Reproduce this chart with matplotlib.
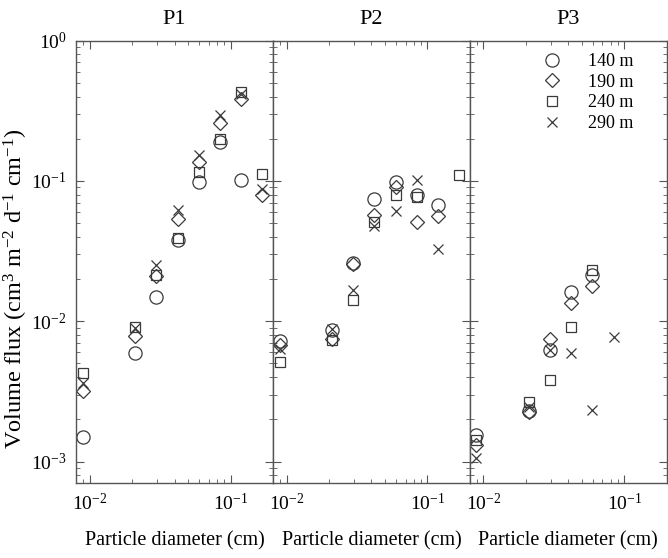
"""
Volume flux vs particle diameter at three sites (P1, P2, P3).
"""

import matplotlib
matplotlib.use('Agg')
import matplotlib.pyplot as plt
import numpy as np

plt.rcParams['font.family'] = ['Liberation Serif', 'DejaVu Serif']
plt.rcParams['mathtext.fontset'] = 'custom'
plt.rcParams['mathtext.rm'] = 'Liberation Serif'
plt.rcParams['mathtext.it'] = 'Liberation Serif:italic'

# particle diameter bins (cm)
diam = [0.0089, 0.021, 0.0297, 0.042, 0.0594, 0.084, 0.119, 0.168]

depths = ['140 m', '190 m', '240 m', '290 m']

# volume flux per depth, one list per panel (None = no data)
p1 = {
    '140 m': [1.5e-3, 5.9e-3, 1.49e-2, 3.8e-2, 0.098, 0.19, 0.102, None],
    '190 m': [3.2e-3, 7.9e-3, 2.1e-2, 5.4e-2, 0.136, 0.26, 0.385, 0.079],
    '240 m': [4.3e-3, 9.1e-3, 2.13e-2, 3.95e-2, 0.116, 0.20, 0.43, 0.112],
    '290 m': [3.6e-3, 9.0e-3, 2.5e-2, 6.2e-2, 0.154, 0.295, 0.42, 0.0875],
}
p2 = {
    '140 m': [7.2e-3, 8.7e-3, 2.6e-2, 7.4e-2, 0.098, 0.079, 0.067, None],
    '190 m': [6.8e-3, 7.5e-3, 2.55e-2, 5.7e-2, 0.090, 0.0506, 0.0567, None],
    '240 m': [5.1e-3, 7.4e-3, 1.41e-2, 5.1e-2, 0.079, 0.077, None, 0.111],
    '290 m': [6.35e-3, 8.8e-3, 1.67e-2, 4.75e-2, 0.061, 0.101, 0.0329, None],
}
p3 = {
    '140 m': [1.55e-3, 2.29e-3, 6.24e-3, 1.62e-2, 2.14e-2, None, None, None],
    '190 m': [1.32e-3, 2.27e-3, 7.5e-3, 1.36e-2, 1.77e-2, None, None, None],
    '240 m': [1.43e-3, 2.66e-3, 3.8e-3, 9.1e-3, 2.33e-2, None, None, None],
    '290 m': [1.06e-3, 2.44e-3, 6.2e-3, 5.97e-3, 2.34e-3, 7.75e-3, None, None],
}
panels = [('P1', p1), ('P2', p2), ('P3', p3)]

markers = {'140 m': ('o', 9.5), '190 m': ('D', 7.5), '240 m': ('s', 7.5), '290 m': ('x', 7.5)}
ink = '#3a3a3a'

fig = plt.figure(figsize=(6.68, 5.58), dpi=100)
left, right, bottom, top = 0.114, 0.998, 0.134, 0.927
w = (right - left) / 3

axes = []
for i, (name, data) in enumerate(panels):
    ax = fig.add_axes([left + i * w, bottom, w, top - bottom])
    axes.append(ax)
    for d in depths:
        m, ms = markers[d]
        x = [xv for xv, yv in zip(diam, data[d]) if yv is not None]
        y = [yv for yv in data[d] if yv is not None]
        ax.plot(x, y, linestyle='none', marker=m, markersize=ms,
                markerfacecolor='none', markeredgecolor=ink,
                markeredgewidth=0.9, label=d)
    ax.set_xscale('log')
    ax.set_yscale('log')
    ax.set_xlim(0.008, 0.2)
    ax.set_ylim(7e-4, 1)
    ax.set_title(name, fontsize=16, pad=12)
    ax.set_xlabel('Particle diameter (cm)', fontsize=14.5, labelpad=12)
    ax.tick_params(which='both', direction='in', top=True, right=True,
                   color='#555555', labelsize=14)
    ax.tick_params(which='major', length=6, pad=7)
    ax.tick_params(which='minor', length=3)
    for s in ax.spines.values():
        s.set_color('#555555')
        s.set_linewidth(1.0)
    if i > 0:
        ax.tick_params(axis='y', which='both', labelleft=False)

axes[0].set_ylabel('Volume flux (cm$^{3}$ m$^{-2}$ d$^{-1}$ cm$^{-1}$)', fontsize=17.5)
axes[0].yaxis.set_label_coords(-0.235, 0.44)
axes[2].legend(loc='upper right', bbox_to_anchor=(0.85, 0.98), frameon=False,
               fontsize=13, handletextpad=1.0, labelspacing=0.2,
               borderaxespad=0.0, borderpad=0.2)

fig.savefig('out.png', dpi=100)
